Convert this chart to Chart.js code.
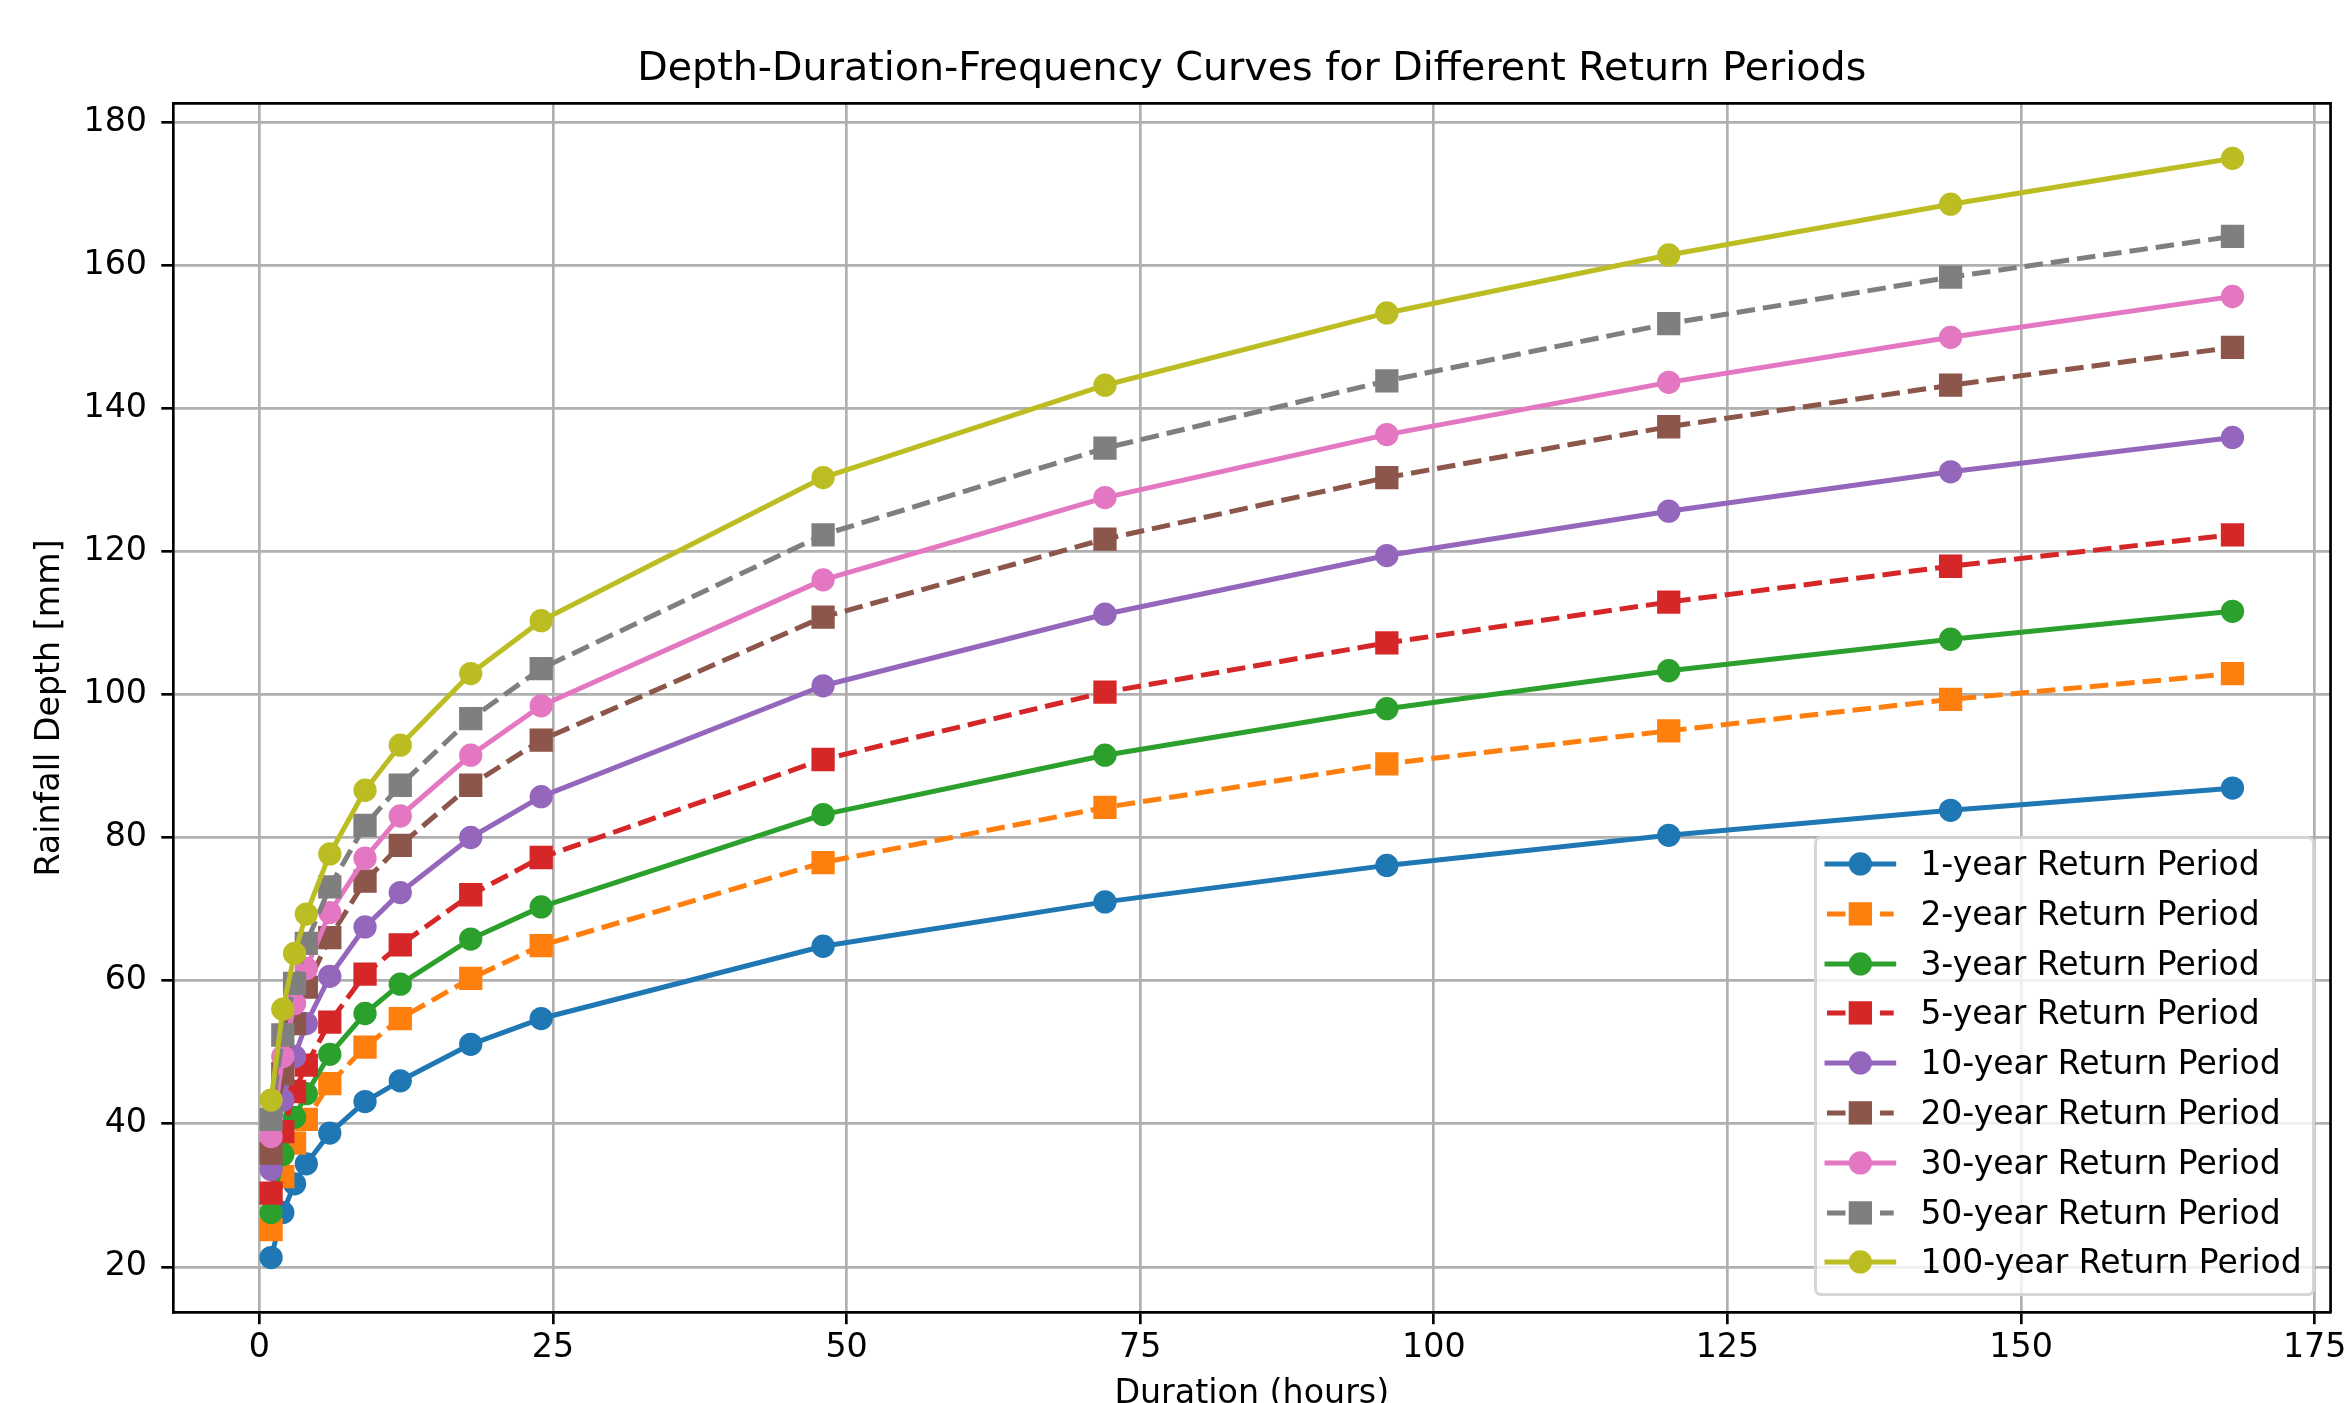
<!DOCTYPE html>
<html>
<head>
<meta charset="utf-8">
<script src="https://cdn.jsdelivr.net/npm/chart.js@4.4.0/dist/chart.umd.min.js"></script>
<style>
  html, body { margin: 0; padding: 0; background: #ffffff; }
  #wrap { position: relative; width: 2348px; height: 1403px; overflow: hidden; background: #fff; }
  canvas { display: block; }
  #legend {
    position: absolute; left: 1814px; top: 836px; width: 501px; height: 460px;
    box-sizing: border-box; border: 3px solid rgba(204,204,204,0.8); border-radius: 7px;
    background: rgba(255,255,255,0.8);
    font-family: 'DejaVu Sans', sans-serif; font-size: 33px; color: #000;
  }
  .row { display: flex; align-items: center; height: 49.8px; white-space: nowrap; }
  .row svg { overflow: visible; margin-left: 10px; margin-right: 26.7px; flex: none; }
  .row span { line-height: 49.8px; }
</style>
</head>
<body>
<div id="wrap">
  <canvas id="c" width="2348" height="1403"></canvas>
  <div id="legend"></div>
</div>
<script>
// ---- data ----
const durations = [1, 2, 3, 4, 6, 9, 12, 18, 24, 48, 72, 96, 120, 144, 168];
const rp1   = [21.3, 27.6, 31.6, 34.4, 38.7, 43.1, 46.0, 51.1, 54.7, 64.8, 71.0, 76.1, 80.3, 83.8, 86.9];
const rp2   = [25.2, 32.6, 37.3, 40.6, 45.6, 50.7, 54.7, 60.3, 64.9, 76.5, 84.2, 90.3, 94.9, 99.3, 102.9];
const rp3   = [27.6, 35.7, 40.9, 44.2, 49.7, 55.4, 59.5, 65.8, 70.3, 83.2, 91.5, 98.0, 103.3, 107.7, 111.6];
const rp5   = [30.3, 38.9, 44.5, 48.2, 54.2, 60.9, 65.0, 72.0, 77.2, 90.9, 100.3, 107.2, 112.9, 117.9, 122.3];
const rp10  = [33.6, 43.3, 49.4, 54.0, 60.6, 67.5, 72.3, 80.0, 85.7, 101.2, 111.2, 119.4, 125.6, 131.1, 135.9];
const rp20  = [35.9, 47.0, 54.0, 59.1, 66.0, 73.9, 78.9, 87.3, 93.6, 110.8, 121.7, 130.3, 137.4, 143.2, 148.5];
const rp30  = [38.2, 49.4, 56.8, 61.7, 69.5, 77.1, 83.0, 91.5, 98.4, 116.0, 127.5, 136.3, 143.6, 149.9, 155.6];
const rp50  = [40.6, 52.4, 59.6, 65.2, 73.1, 81.7, 87.3, 96.6, 103.6, 122.3, 134.4, 143.8, 151.8, 158.3, 164.0];
const rp100 = [43.3, 56.0, 63.8, 69.3, 77.7, 86.6, 92.9, 102.9, 110.3, 130.3, 143.2, 153.3, 161.4, 168.5, 174.9];
const seriesLabels = ['1-year Return Period', '2-year Return Period', '3-year Return Period',
  '5-year Return Period', '10-year Return Period', '20-year Return Period',
  '30-year Return Period', '50-year Return Period', '100-year Return Period'];
const xTicks = [0, 25, 50, 75, 100, 125, 150, 175];
const yTicks = [20, 40, 60, 80, 100, 120, 140, 160, 180];

// ---- styles ----
const seriesValues = [rp1, rp2, rp3, rp5, rp10, rp20, rp30, rp50, rp100];
const colors = ['#1f77b4', '#ff7f0e', '#2ca02c', '#d62728', '#9467bd', '#8c564b', '#e377c2', '#7f7f7f', '#bcbd22'];
const dashed = [false, true, false, true, false, true, false, true, false];
const FONT = 'DejaVu Sans';
const DASH = [18.5, 8];

const datasets = seriesValues.map((vals, i) => ({
  label: seriesLabels[i],
  data: durations.map((d, j) => ({ x: d, y: vals[j] })),
  borderColor: colors[i],
  backgroundColor: colors[i],
  borderWidth: 5,
  borderDash: dashed[i] ? DASH : [],
  borderCapStyle: dashed[i] ? 'butt' : 'square',
  borderJoinStyle: 'round',
  pointStyle: dashed[i] ? 'rect' : 'circle',
  pointRadius: dashed[i] ? 14.14 : 10,
  pointBorderWidth: 3.3,
  pointBackgroundColor: colors[i],
  pointBorderColor: colors[i],
  tension: 0,
  fill: false,
  order: seriesValues.length - i
}));

const frame = {
  id: 'frame',
  afterDatasetsDraw(chart) {
    const { ctx, chartArea: a } = chart;
    ctx.save();
    ctx.strokeStyle = '#000';
    ctx.lineWidth = 2.67;
    ctx.beginPath();
    ctx.moveTo(a.left, a.top);
    ctx.lineTo(a.right, a.top);
    ctx.lineTo(a.right, a.bottom);
    ctx.stroke();
    ctx.restore();
  }
};

const gridOpts = { color: '#b0b0b0', lineWidth: 2.67, tickColor: '#000', tickWidth: 2.67, tickLength: 11.7, drawTicks: true };
const borderOpts = { display: true, color: '#000', width: 2.67 };

new Chart(document.getElementById('c'), {
  type: 'line',
  data: { datasets },
  plugins: [frame],
  options: {
    responsive: false,
    animation: false,
    devicePixelRatio: 1,
    layout: { padding: { left: 0, right: 17, top: 0, bottom: 0 } },
    plugins: {
      legend: { display: false },
      tooltip: { enabled: false },
      title: {
        display: true,
        text: 'Depth-Duration-Frequency Curves for Different Return Periods',
        color: '#000',
        font: { family: FONT, size: 39.6, weight: 'normal', lineHeight: 1.2 },
        padding: { top: 45.7, bottom: 10.2 },
        fullSize: false
      }
    },
    scales: {
      x: {
        type: 'linear', min: -7.35, max: 176.35, bounds: 'data',
        afterBuildTicks: s => { s.ticks = xTicks.map(v => ({ value: v })); },
        afterFit: s => { s.height = 90.5; s.paddingLeft = 0; s.paddingRight = 0; },
        grid: gridOpts,
        border: borderOpts,
        ticks: { color: '#000', font: { family: FONT, size: 33.3 }, padding: 4.3, maxRotation: 0, autoSkip: false, callback: v => String(v) },
        title: { display: true, text: 'Duration (hours)', color: '#000', font: { family: FONT, size: 33.3, lineHeight: 0.5 }, padding: 0 }
      },
      y: {
        type: 'linear', min: 13.62, max: 182.58, bounds: 'data',
        afterBuildTicks: s => { s.ticks = yTicks.map(v => ({ value: v })); },
        afterFit: s => { s.width = 173; s.paddingTop = 0; s.paddingBottom = 0; },
        grid: gridOpts,
        border: borderOpts,
        ticks: { color: '#000', font: { family: FONT, size: 33.3 }, padding: 14.3, autoSkip: false, callback: v => String(v) },
        title: { display: true, text: 'Rainfall Depth [mm]', color: '#000', font: { family: FONT, size: 33.3 }, padding: { top: 30, bottom: 0 } }
      }
    }
  }
});

// ---- legend (lower right, inside axes) ----
const legend = document.getElementById('legend');
const NS = 'http://www.w3.org/2000/svg';
seriesLabels.forEach((lab, i) => {
  const row = document.createElement('div');
  row.className = 'row';
  const svg = document.createElementNS(NS, 'svg');
  svg.setAttribute('width', '66.7');
  svg.setAttribute('height', '49.8');
  const line = document.createElementNS(NS, 'line');
  line.setAttribute('x1', '0'); line.setAttribute('x2', '66.7');
  line.setAttribute('y1', '24.9'); line.setAttribute('y2', '24.9');
  line.setAttribute('stroke', colors[i]);
  line.setAttribute('stroke-width', '5');
  if (dashed[i]) { line.setAttribute('stroke-dasharray', DASH.join(' ')); line.setAttribute('stroke-linecap', 'butt'); }
  else { line.setAttribute('stroke-linecap', 'square'); }
  svg.appendChild(line);
  let m;
  if (dashed[i]) {
    m = document.createElementNS(NS, 'rect');
    m.setAttribute('x', '23.35'); m.setAttribute('y', '14.9');
    m.setAttribute('width', '20'); m.setAttribute('height', '20');
  } else {
    m = document.createElementNS(NS, 'circle');
    m.setAttribute('cx', '33.35'); m.setAttribute('cy', '24.9'); m.setAttribute('r', '10');
  }
  m.setAttribute('fill', colors[i]); m.setAttribute('stroke', colors[i]); m.setAttribute('stroke-width', '3.3');
  svg.appendChild(m);
  const span = document.createElement('span');
  span.textContent = lab;
  row.appendChild(svg);
  row.appendChild(span);
  legend.appendChild(row);
});
</script>
</body>
</html>
